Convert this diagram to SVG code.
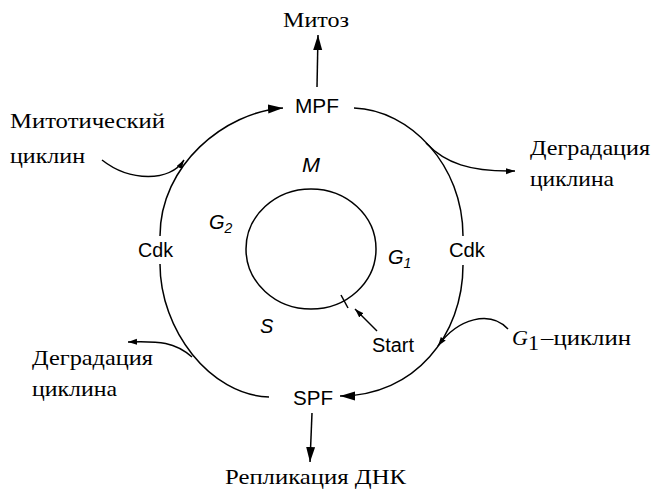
<svg xmlns="http://www.w3.org/2000/svg" width="653" height="489" viewBox="0 0 653 489">
<style>
.ln{fill:none;stroke:#000;stroke-width:1.5}
.sr{font-family:"Liberation Serif","DejaVu Serif",serif;font-size:22px;fill:#000}
.ss{font-family:"Liberation Sans",Arial,sans-serif;font-size:20px;fill:#000}
.it{font-style:italic}
</style>
<defs>
<marker id="big" markerUnits="userSpaceOnUse" markerWidth="16" markerHeight="10" refX="15" refY="4.5" orient="auto"><path d="M0,0 L15,4.5 L0,9 z" fill="#000"/></marker>
<marker id="sm" markerUnits="userSpaceOnUse" markerWidth="10" markerHeight="8" refX="9" refY="3" orient="auto"><path d="M0,0 L9,3 L0,6 z" fill="#000"/></marker>
</defs>
<rect width="653" height="489" fill="#fff"/>
<g id="connectors">
<ellipse class="ln" cx="311" cy="249" rx="65" ry="60"/>
<line class="ln" x1="341" y1="295" x2="348" y2="308"/>
<path class="ln" d="M160,236 C160,165 225,112 283,108" marker-end="url(#big)"/>
<path class="ln" d="M354,108 C410,110 463,165 463,236"/>
<path class="ln" d="M160,264 C160,330 210,395 269,397"/>
<path class="ln" d="M463,265 C463,335 415,396 340,396" marker-end="url(#big)"/>
<path class="ln" d="M102,160 C130,182 170,182 184,160" marker-end="url(#sm)"/>
<path class="ln" d="M426,143 C445,163 470,172 515,171" marker-end="url(#sm)"/>
<path class="ln" d="M192,357 C175,342 160,341 128,342" marker-end="url(#sm)"/>
<path class="ln" d="M508,329 C490,310 458,318 438,346" marker-end="url(#sm)"/>
<line class="ln" x1="377" y1="331" x2="355" y2="309" marker-end="url(#sm)"/>
<line class="ln" x1="317" y1="87" x2="318" y2="35" marker-end="url(#big)"/>
<line class="ln" x1="312" y1="413" x2="310" y2="462" marker-end="url(#big)"/>
</g>
<g id="mitoz"><text class="sr" x="283" y="27" textLength="66" lengthAdjust="spacingAndGlyphs">Митоз</text></g>
<g id="mpf"><text class="ss" x="295" y="113" font-size="19" textLength="44" lengthAdjust="spacingAndGlyphs">MPF</text></g>
<g id="spf"><text class="ss" x="293" y="405" textLength="40" lengthAdjust="spacingAndGlyphs">SPF</text></g>
<g id="cdk-left"><text class="ss" x="138" y="257" textLength="35" lengthAdjust="spacingAndGlyphs">Cdk</text></g>
<g id="cdk-right"><text class="ss" x="449" y="257" textLength="36" lengthAdjust="spacingAndGlyphs">Cdk</text></g>
<g id="phase-m"><text class="ss it" x="302" y="172" font-size="16" textLength="18" lengthAdjust="spacingAndGlyphs">M</text></g>
<g id="phase-g1"><text class="ss it" x="388" y="264" font-size="17">G<tspan font-size="14" dy="4">1</tspan></text></g>
<g id="phase-g2"><text class="ss it" x="209" y="229" font-size="17">G<tspan font-size="14" dy="4">2</tspan></text></g>
<g id="phase-s"><text class="ss it" x="260" y="333" font-size="18">S</text></g>
<g id="start"><text class="ss" x="372" y="352" textLength="42" lengthAdjust="spacingAndGlyphs">Start</text></g>
<g id="mitotic-cyclin">
<text class="sr" x="10" y="128" textLength="155" lengthAdjust="spacingAndGlyphs">Митотический</text>
<text class="sr" x="10" y="163" textLength="75" lengthAdjust="spacingAndGlyphs">циклин</text>
</g>
<g id="degradation-right">
<text class="sr" x="530" y="155" textLength="120" lengthAdjust="spacingAndGlyphs">Деградация</text>
<text class="sr" x="530" y="186" textLength="84" lengthAdjust="spacingAndGlyphs">циклина</text>
</g>
<g id="degradation-left">
<text class="sr" x="32" y="365" textLength="121" lengthAdjust="spacingAndGlyphs">Деградация</text>
<text class="sr" x="32" y="396" textLength="85" lengthAdjust="spacingAndGlyphs">циклина</text>
</g>
<g id="g1-cyclin">
<text class="sr it" x="512" y="345">G</text>
<text class="sr" x="528" y="350" font-size="13">1</text>
<text class="sr" x="541" y="345" textLength="90" lengthAdjust="spacingAndGlyphs">–циклин</text>
</g>
<g id="replication"><text class="sr" x="225" y="484" textLength="181" lengthAdjust="spacingAndGlyphs">Репликация ДНК</text></g>
</svg>
